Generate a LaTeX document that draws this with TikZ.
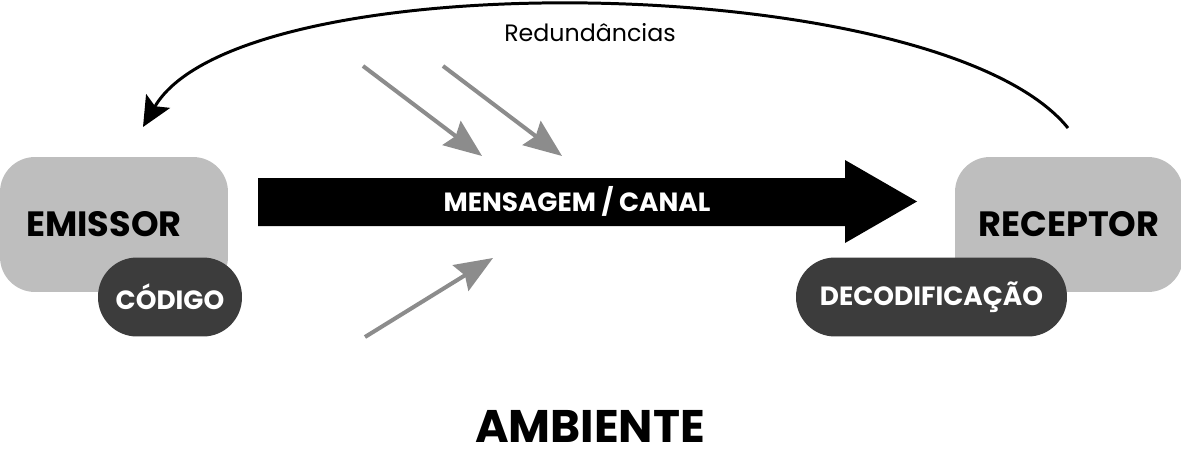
\documentclass[tikz,border=0pt]{standalone}
\usepackage{fontspec}
\setmainfont{Poppins}
\usetikzlibrary{arrows.meta,positioning}
\definecolor{boxgray}{RGB}{190,190,190}
\definecolor{pilldark}{RGB}{60,60,60}
\definecolor{noisegray}{RGB}{140,140,140}

\begin{document}
\begin{tikzpicture}[x=0.02cm, y=-0.02cm,
    endbox/.style={rectangle, fill=boxgray, rounded corners=0.7cm, minimum width=4.56cm, minimum height=2.7cm, font=\fontsize{20}{22}\selectfont\bfseries},
    pill/.style={rectangle, fill=pilldark, text=white, rounded corners=0.78cm, minimum height=1.58cm, font=\fontsize{15}{17}\selectfont\bfseries},
    noise/.style={line width=2.3pt, draw=noisegray, -{Stealth[length=0.76cm, width=0.6cm, inset=0.1cm]}},
    feedback/.style={line width=1.7pt, -{Stealth[length=0.6cm, width=0.55cm, inset=0.12cm]}}
]
    \useasboundingbox (0,0) rectangle (1181,453);

    % end points of the communication
    \node[endbox] (emissor) at (114,224.5) {EMISSOR\hspace*{0.4cm}};
    \node[pill, minimum width=2.88cm] (codigo) at (170,297) {CÓDIGO};
    \node[endbox] (receptor) at (1069,224.5) {RECEPTOR};
    \node[pill, minimum width=5.42cm] (decodificacao) at (931.5,297) {DECODIFICAÇÃO};

    % message arrow
    \fill (258,178) -- (845,178) -- (845,160) -- (917,201.5) -- (845,243) -- (845,226) -- (258,226) -- cycle;
    \node[text=white, font=\fontsize{15}{17}\selectfont\bfseries] (canal) at (577,201) {MENSAGEM / CANAL};

    % noise
    \coordinate (n1a) at (363,66);  \coordinate (n1b) at (482,156);
    \coordinate (n2a) at (443,66);  \coordinate (n2b) at (562,156);
    \coordinate (n3a) at (365,337); \coordinate (n3b) at (493,258);
    \draw[noise] (n1a) -- (n1b);
    \draw[noise] (n2a) -- (n2b);
    \draw[noise] (n3a) -- (n3b);

    % feedback
    \coordinate (fbstart) at (1068,128);
    \coordinate (fbend) at (143,127);
    \draw[feedback] (fbstart) .. controls (940,-30) and (240,-40) .. (fbend);
    \node[font=\fontsize{13.5}{15}\selectfont] (redund) at (590,33) {Redundâncias};

    \node[inner sep=0pt, font=\fontsize{26}{30}\selectfont\bfseries] (ambiente) at (590,426) {AMBIENTE};
\end{tikzpicture}
\end{document}
